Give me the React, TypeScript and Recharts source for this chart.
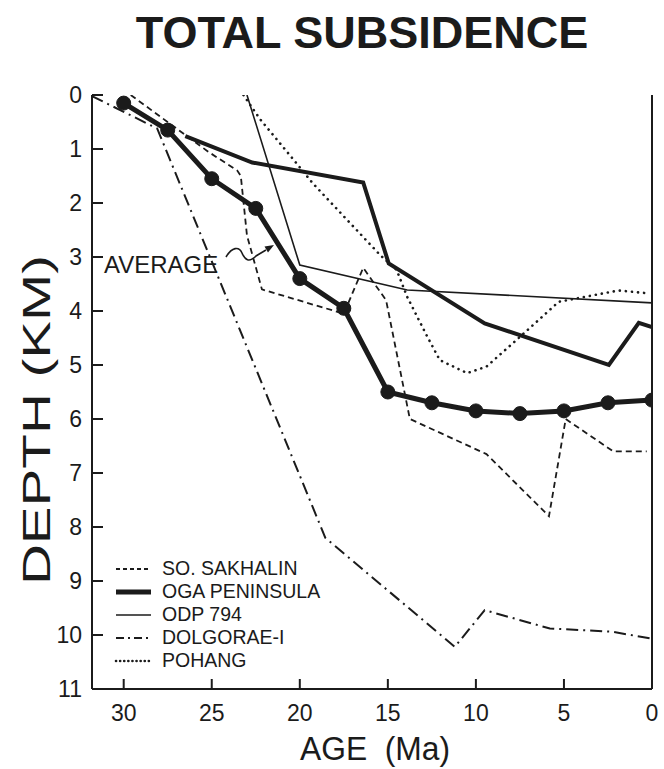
import { Legend, Line, LineChart, XAxis, YAxis } from "recharts";

const INK = "#1b1b1b";
const FONT = "'Liberation Sans', Arial, sans-serif";

const ageTicks = [30, 25, 20, 15, 10, 5, 0];
const depthTicks = [0, 1, 2, 3, 4, 5, 6, 7, 8, 9, 10, 11];

const sakhalinAge = [29.6, 25.2, 23.55, 23.35, 23.0, 22.15, 17.5, 16.4, 15.1, 13.75, 9.4, 5.85, 4.9, 2.2, 0.3];
const sakhalinDepth = [0, 1.05, 1.4, 1.5, 2.6, 3.6, 4.05, 3.2, 3.8, 6.0, 6.65, 7.8, 6.0, 6.6, 6.6];

const ogaAge = [26.5, 22.7, 16.4, 14.95, 9.5, 2.45, 0.75, 0];
const ogaDepth = [0.76, 1.25, 1.62, 3.12, 4.23, 5.0, 4.22, 4.3];

const odpAge = [23.0, 20.0, 13.9, 0];
const odpDepth = [0, 3.15, 3.61, 3.85];

const dolgoraeAge = [31.8, 28.1, 18.55, 11.2, 9.5, 5.8, 2.25, 0];
const dolgoraeDepth = [0.02, 0.62, 8.2, 10.22, 9.54, 9.88, 9.94, 10.07];

const pohangAge = [23.2, 22.25, 20.35, 19.25, 15.45, 14.5, 13.9, 12.8, 12.05, 10.5, 9.4, 7.5, 5.3, 3.2, 1.9, 0.3];
const pohangDepth = [0, 0.45, 1.2, 1.64, 2.96, 3.24, 3.74, 4.45, 4.91, 5.15, 5.03, 4.48, 3.83, 3.7, 3.62, 3.67];

const averageAge = [30, 27.5, 25, 22.5, 20, 17.5, 15, 12.5, 10, 7.5, 5, 2.5, 0];
const averageDepth = [0.15, 0.65, 1.55, 2.1, 3.4, 3.95, 5.5, 5.7, 5.85, 5.9, 5.85, 5.7, 5.65];

const toPoints = (ages: number[], depths: number[]) =>
  ages.map((age, i) => ({ age, depth: depths[i] }));

// legend order follows the figure
const series = [
  { name: "SO. SAKHALIN", data: toPoints(sakhalinAge, sakhalinDepth), width: 1.8, dash: "6 4", key: "4 3" },
  { name: "OGA PENINSULA", data: toPoints(ogaAge, ogaDepth), width: 4, dash: undefined, key: undefined },
  { name: "ODP 794", data: toPoints(odpAge, odpDepth), width: 1.6, dash: undefined, key: undefined },
  { name: "DOLGORAE-I", data: toPoints(dolgoraeAge, dolgoraeDepth), width: 2, dash: "12 5 2 5", key: "8 4 2 4" },
  { name: "POHANG", data: toPoints(pohangAge, pohangDepth), width: 2.6, dash: "0.1 6", key: "0.1 4" },
];

const averageData = toPoints(averageAge, averageDepth);

function BottomTick({ x, y, payload }: any) {
  return (
    <g>
      <line x1={x} x2={x} y1={y} y2={y - 10} stroke={INK} strokeWidth={2} />
      <text x={x} y={y + 32} textAnchor="middle" fontSize={23} fill={INK} fontFamily={FONT}>
        {payload.value}
      </text>
    </g>
  );
}

function TopTick({ x, y }: any) {
  return <line x1={x} x2={x} y1={y} y2={y + 10} stroke={INK} strokeWidth={2} />;
}

function LeftTick({ x, y, payload }: any) {
  return (
    <g>
      <line x1={x} x2={x + 11} y1={y} y2={y} stroke={INK} strokeWidth={2} />
      <text x={x - 10} y={y + 8} textAnchor="end" fontSize={23} fill={INK} fontFamily={FONT}>
        {payload.value}
      </text>
    </g>
  );
}

function RightTick({ x, y }: any) {
  return <line x1={x} x2={x - 11} y1={y} y2={y} stroke={INK} strokeWidth={2} />;
}

function LegendBox() {
  return (
    <div style={{ fontFamily: FONT, fontSize: 19.5, color: INK, lineHeight: "23px" }}>
      {series.map((s) => (
        <div key={s.name} style={{ display: "flex", alignItems: "center", height: 23 }}>
          <svg width={40} height={10} style={{ marginRight: 8 }}>
            <line
              x1={2}
              x2={37}
              y1={5}
              y2={5}
              stroke={INK}
              strokeWidth={s.name === "OGA PENINSULA" ? 5 : s.width}
              strokeDasharray={s.key}
              strokeLinecap={s.name === "POHANG" ? "round" : "butt"}
            />
          </svg>
          <span>{s.name}</span>
        </div>
      ))}
    </div>
  );
}

export default function App() {
  return (
    <div style={{ position: "absolute", left: 0, top: 0, width: 664, height: 769, background: "#fff" }}>
      <LineChart width={664} height={769} margin={{ top: 95, right: 0, bottom: 40, left: 32 }}>
        <XAxis
          xAxisId="bottom"
          dataKey="age"
          type="number"
          domain={[0, 31.8]}
          reversed
          allowDataOverflow
          ticks={ageTicks}
          interval={0}
          height={40}
          tickSize={0}
          tickMargin={0}
          tick={<BottomTick />}
          axisLine={{ stroke: INK, strokeWidth: 2 }}
        />
        <XAxis
          xAxisId="top"
          orientation="top"
          dataKey="age"
          type="number"
          domain={[0, 31.8]}
          reversed
          ticks={ageTicks}
          interval={0}
          height={0}
          tickSize={0}
          tickMargin={0}
          tick={<TopTick />}
          axisLine={{ stroke: INK, strokeWidth: 2 }}
        />
        <YAxis
          yAxisId="left"
          type="number"
          domain={[0, 11]}
          reversed
          allowDataOverflow
          ticks={depthTicks}
          interval={0}
          width={60}
          tickSize={0}
          tickMargin={0}
          tick={<LeftTick />}
          axisLine={{ stroke: INK, strokeWidth: 2 }}
        />
        <YAxis
          yAxisId="right"
          orientation="right"
          type="number"
          domain={[0, 11]}
          reversed
          ticks={depthTicks}
          interval={0}
          width={12}
          tickSize={0}
          tickMargin={0}
          tick={<RightTick />}
          axisLine={{ stroke: INK, strokeWidth: 2 }}
        />
        {series.map((s) => (
          <Line
            key={s.name}
            xAxisId="bottom"
            yAxisId="left"
            data={s.data}
            dataKey="depth"
            name={s.name}
            stroke={INK}
            strokeWidth={s.width}
            strokeDasharray={s.dash}
            strokeLinecap={s.name === "POHANG" ? "round" : "butt"}
            dot={false}
            activeDot={false}
            isAnimationActive={false}
          />
        ))}
        <Line
          xAxisId="bottom"
          yAxisId="left"
          data={averageData}
          dataKey="depth"
          name="AVERAGE"
          legendType="none"
          stroke={INK}
          strokeWidth={5}
          dot={{ r: 7, fill: INK, stroke: INK, strokeWidth: 1 }}
          activeDot={false}
          isAnimationActive={false}
        />
        <Legend
          layout="vertical"
          align="center"
          verticalAlign="middle"
          content={<LegendBox />}
          wrapperStyle={{ left: 114, top: 557, width: 250 }}
        />
      </LineChart>
      <svg
        width={664}
        height={769}
        style={{ position: "absolute", left: 0, top: 0, pointerEvents: "none" }}
      >
        <text x={362} y={48} textAnchor="middle" fontSize={45} fontWeight="bold" fill={INK} fontFamily={FONT}>
          TOTAL SUBSIDENCE
        </text>
        <text
          x={300}
          y={760}
          fontSize={33}
          fill={INK}
          fontFamily={FONT}
          textLength={150}
          lengthAdjust="spacingAndGlyphs"
        >
          {"AGE\u00a0\u00a0(Ma)"}
        </text>
        <text
          transform="translate(50 420) rotate(-90)"
          textAnchor="middle"
          fontSize={39}
          fill={INK}
          fontFamily={FONT}
          textLength={330}
          lengthAdjust="spacingAndGlyphs"
        >
          DEPTH (KM)
        </text>
        <text x={104} y={273} fontSize={24} fill={INK} fontFamily={FONT}>
          AVERAGE
        </text>
        <path d="M 226 257 C 232 247, 239 246, 242 253 S 249 263, 256 256 L 266 250" fill="none" stroke={INK} strokeWidth={1.6} />
        <polygon points="274,245 264.5,246.5 268,252.5" fill={INK} />
      </svg>
    </div>
  );
}
